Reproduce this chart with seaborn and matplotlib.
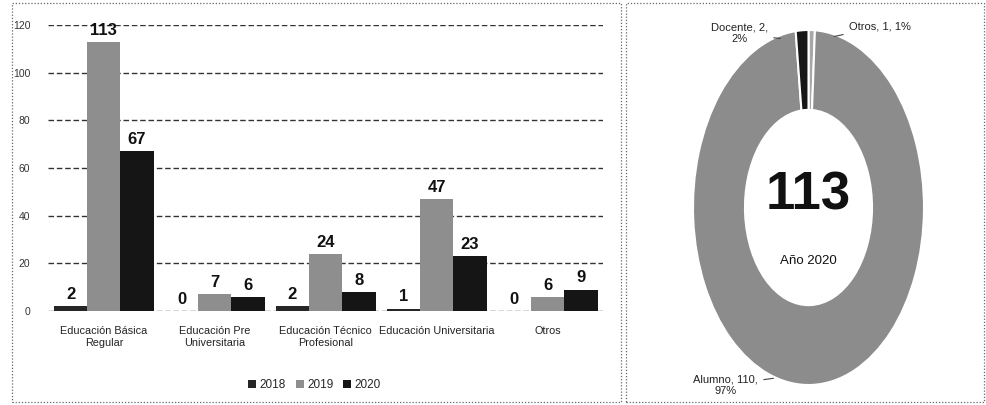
import pandas as pd
import seaborn as sns
import matplotlib.pyplot as plt
from matplotlib.patches import Rectangle

# Data
categorias = ['Educación Básica\nRegular', 'Educación Pre\nUniversitaria',
              'Educación Técnico\nProfesional', 'Educación Universitaria', 'Otros']
anios = ['2018', '2019', '2020']
v2018 = [2, 0, 2, 1, 0]
v2019 = [113, 7, 24, 47, 6]
v2020 = [67, 6, 8, 23, 9]

dona_labels = ['Otros', 'Alumno', 'Docente']
dona_values = [1, 110, 2]
dona_pct = ['1%', '97%', '2%']
total_2020 = 113

colores_barras = ['#262626', '#8e8e8e', '#151515']
colores_dona = ['#a8a8a8', '#8c8c8c', '#161616']

# Long-form table for seaborn
rows = []
for anio, vals in zip(anios, [v2018, v2019, v2020]):
    for cat, v in zip(categorias, vals):
        rows.append({'Categoria': cat, 'Año': anio, 'Valor': v})
df = pd.DataFrame(rows)

sns.set_theme(style='white')
plt.rcParams['font.family'] = ['Liberation Sans', 'DejaVu Sans']

fig = plt.figure(figsize=(9.87, 4.05), dpi=100)

# Left: grouped bars
ax = fig.add_axes([0.049, 0.232, 0.562, 0.706])
sns.barplot(data=df, x='Categoria', y='Valor', hue='Año', palette=colores_barras,
            width=0.9, saturation=1, ax=ax, edgecolor='none')
ax.set_ylim(0, 120)
ax.set_yticks(range(0, 121, 20))
ax.yaxis.grid(True, linestyle=(0, (4, 2)), color='#333333', linewidth=1)
ax.set_axisbelow(True)
for s in ax.spines.values():
    s.set_visible(False)
ax.set_xlabel('')
ax.set_ylabel('')
ax.tick_params(axis='y', labelsize=7.5, colors='#333333', length=0, pad=13)
ax.tick_params(axis='x', labelsize=7.8, colors='#222222', length=0, pad=11)
for c in ax.containers:
    ax.bar_label(c, fontsize=12, fontweight='bold', padding=3, color='#111111')
ax.legend(loc='upper center', bbox_to_anchor=(0.48, -0.2), ncol=3, frameon=False,
          fontsize=8.5, handlelength=0.7, handleheight=0.7, handletextpad=0.3,
          columnspacing=0.8)

# Right: donut (stretched vertically like the reference)
ax2 = fig.add_axes([693 / 987, 1 - 385 / 405, 231 / 987, 355 / 405])
ax2.pie(dona_values, colors=colores_dona, startangle=90, counterclock=False,
        wedgeprops=dict(width=0.45, edgecolor='white', linewidth=1.5))
ax2.set_aspect('auto')
ax2.set_xlim(-1, 1)
ax2.set_ylim(-1, 1)
ax2.text(0, 0.07, str(total_2020), ha='center', va='center', fontsize=38,
         fontweight='bold', color='#111111')
ax2.text(0, -0.3, 'Año 2020', ha='center', va='center', fontsize=9.5, color='#111111')

lab = {k: f'{k}, {v},' for k, v in zip(dona_labels, dona_values)}
ax2.annotate(lab['Docente'] + '\n' + dona_pct[2], xy=(-0.22, 0.95), xytext=(-0.6, 0.98),
             ha='center', va='center', fontsize=8, color='#222222',
             arrowprops=dict(arrowstyle='-', color='#444444', lw=0.8))
ax2.annotate(lab['Otros'] + ' ' + dona_pct[0], xy=(0.2, 0.96), xytext=(0.62, 1.02),
             ha='center', va='center', fontsize=8, color='#222222',
             arrowprops=dict(arrowstyle='-', color='#444444', lw=0.8))
ax2.annotate(lab['Alumno'] + '\n' + dona_pct[1], xy=(-0.28, -0.96), xytext=(-0.72, -1.0),
             ha='center', va='center', fontsize=8, color='#222222',
             arrowprops=dict(arrowstyle='-', color='#444444', lw=0.8),
             annotation_clip=False)

# Dotted panel frames
for x0, x1 in [(12, 621), (626, 984)]:
    fig.add_artist(Rectangle((x0 / 987, 3 / 405), (x1 - x0) / 987, 399 / 405,
                             transform=fig.transFigure, fill=False,
                             linestyle=(0, (1, 1.5)), edgecolor='#666666', lw=0.9))

plt.savefig('out.png', dpi=100)
plt.close()
